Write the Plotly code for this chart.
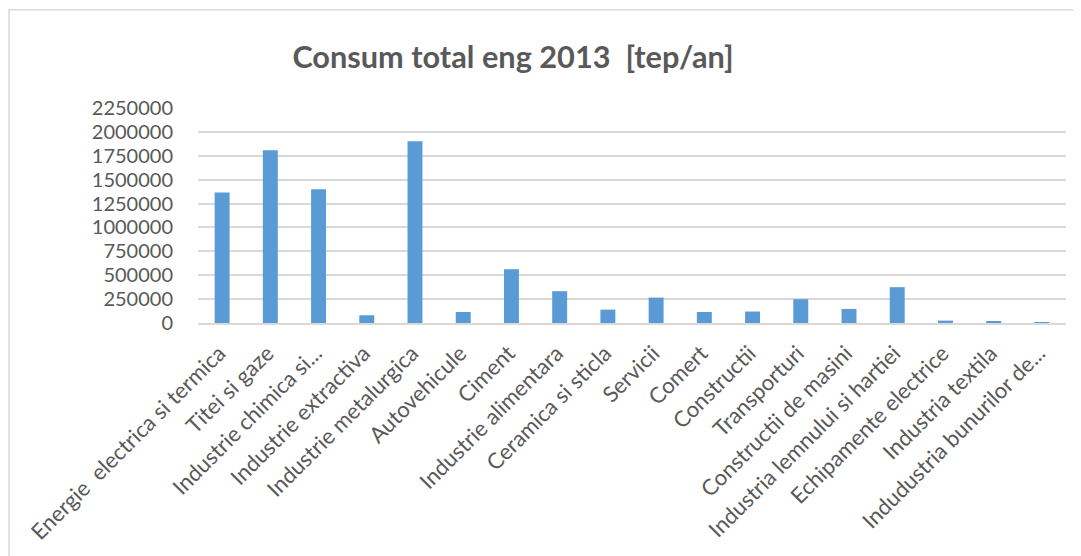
import plotly.graph_objects as go

categories = [
    "Energie  electrica si termica", "Titei si gaze", "Industrie chimica si...",
    "Industrie extractiva", "Industrie metalurgica", "Autovehicule", "Ciment",
    "Industrie alimentara", "Ceramica si sticla", "Servicii", "Comert",
    "Constructii", "Transporturi", "Constructii de masini",
    "Industria lemnului si hartiei", "Echipamente electrice",
    "Industria textila", "Indudustria bunurilor de...",
]
values = [
    1365000, 1809000, 1400000, 81000, 1903000, 115000, 563000,
    333000, 140000, 266000, 115000, 120000, 249000, 147000,
    375000, 25000, 15000, 1000,
]
tick_vals = [0, 250000, 500000, 750000, 1000000, 1250000, 1500000,
             1750000, 2000000, 2250000]
tick_text = [str(v) for v in tick_vals]
title_text = "Consum total eng 2013  [tep/an]"

# page body adds an 8px offset; figure sized so it fits the window
W, H = 1073, 548
ML, MT = 190, 100
MR = W - 1058
MB = H - 314.7
pw = W - ML - MR
ph = H - MT - MB

fig = go.Figure(go.Bar(
    x=categories, y=values, marker_color="#5b9bd5",
    marker_line_width=0, width=0.31,
))

fig.update_layout(
    width=W, height=H,
    margin=dict(l=ML, r=MR, t=MT, b=MB, autoexpand=False),
    paper_bgcolor="white", plot_bgcolor="white",
    showlegend=False,
    font=dict(family="Lato", color="#595959"),
    title=dict(text="<b>" + title_text + "</b>", x=505 / W, xref="container",
               xanchor="center", y=1 - 49 / H, yanchor="middle",
               font=dict(family="Lato", size=30.7, color="#595959")),
    xaxis=dict(
        tickangle=-45, tickfont=dict(size=22, color="#595959"),
        showgrid=False, showline=True, linecolor="#d9d9d9", linewidth=1.5,
        ticks="", range=[-0.5, len(categories) - 0.5], automargin=False,
        ticklabelshift=-3, ticklabelstandoff=7,
    ),
    yaxis=dict(
        range=[0, 2250000], tickvals=tick_vals, ticktext=tick_text,
        tickfont=dict(size=20, color="#595959"),
        showgrid=True, gridcolor="#d9d9d9", gridwidth=1.5,
        zeroline=False, showline=False, ticks="", ticklabelstandoff=24,
        automargin=False,
    ),
)

# outer chart border (extends beyond the right/bottom edges)
fig.add_shape(
    type="rect", xref="paper", yref="paper",
    x0=(1 - ML) / pw, x1=(W + 5 - ML) / pw,
    y0=-(MB + 10) / ph, y1=1 + (MT - 2) / ph,
    line=dict(color="#d9d9d9", width=1.5), fillcolor="rgba(0,0,0,0)",
    layer="below",
)

fig.write_html("out.html")
